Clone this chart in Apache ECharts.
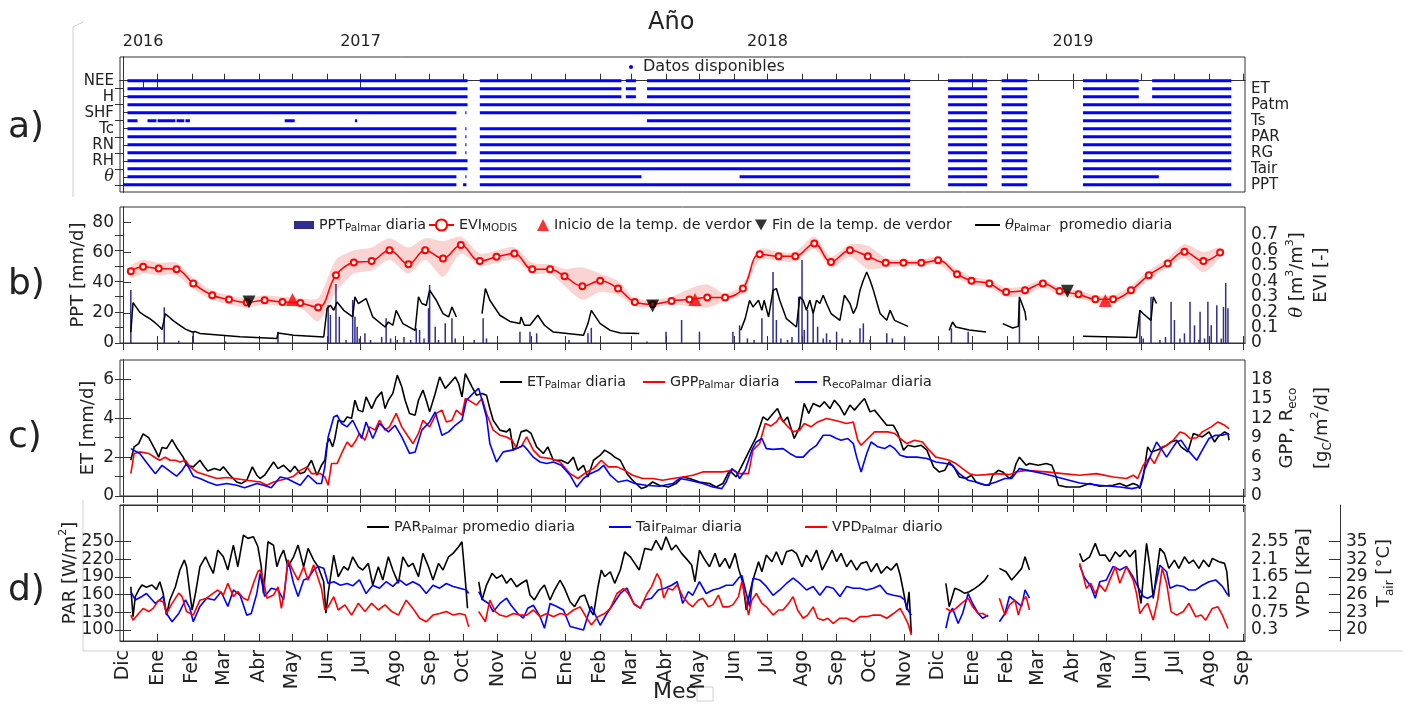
<!DOCTYPE html>
<html><head><meta charset="utf-8">
<script src="https://cdn.jsdelivr.net/npm/echarts@6/dist/echarts.min.js"></script>
<style>html,body{margin:0;padding:0;background:#fff}#c{width:1413px;height:705px}</style>
</head><body><div id="c"></div><script>
// ---------- axis ticks (x = days since 1 Dec) ----------
const monthTicks = [0,31,62,91,122,152,183,213,244,275,305,336,366,397,428,456,487,517,548,578,609,640,670,701,731,762,793,821,852,882,913,943,974,1005];
const monthLabels = ['Dic','Ene','Feb','Mar','Abr','May','Jun','Jul','Ago','Sep','Oct','Nov','Dic','Ene','Feb','Mar','Abr','May','Jun','Jul','Ago','Sep','Oct','Nov','Dic','Ene','Feb','Mar','Abr','May','Jun','Jul','Ago','Sep'];
const yearTicks = [18,31,213,762,852];
const yearLabelDays = [18,213,578,852];
const yearLabels = ['2016','2017','2018','2019'];
const rowNames = ['NEE','ET','H','Patm','SHF','Ts','Tc','PAR','RN','RG','RH','Tair','θ','PPT'];
const eviTicks = [0,0.1,0.2,0.3,0.4,0.5,0.6,0.7];

// ---------- a) data availability intervals [start, end] ----------
const availNEE  = [[4,309],[320,447],[451,460],[470,706],[740,775],[788,811],[861,911],[923,994]];
const availET   = [[4,309],[320,447],[451,460],[470,706],[740,775],[788,811],[861,911],[923,994]];
const availH    = [[4,309],[320,447],[451,460],[470,706],[740,775],[788,811],[861,911],[923,994]];
const availPatm = [[4,309],[320,706],[740,775],[788,811],[861,994]];
const availSHF  = [[4,299],[307,308],[320,706],[740,775],[788,811],[861,994]];
const availTs   = [[4,13],[22,30],[31,47],[48,55],[56,60],[145,154],[208,210],[470,706],[740,775],[788,811],[861,994]];
const availTc   = [[4,299],[307,308],[320,706],[740,775],[788,811],[861,994]];
const availPAR  = [[4,299],[307,308],[320,706],[740,775],[788,811],[861,994]];
const availRN   = [[4,299],[307,308],[320,706],[740,775],[788,811],[861,994]];
const availRG   = [[4,299],[307,308],[320,706],[740,775],[788,811],[861,994]];
const availRH   = [[4,309],[320,706],[740,775],[788,811],[861,994]];
const availTair = [[4,309],[320,706],[740,775],[788,811],[861,994]];
const availTheta= [[4,299],[307,308],[320,465],[553,706],[740,775],[788,811],[861,929]];
const availPPT  = [[0,299],[305,308],[320,706],[740,775],[788,811],[861,994]];
const availability = [availNEE,availET,availH,availPatm,availSHF,availTs,availTc,availPAR,availRN,availRG,availRH,availTair,availTheta,availPPT];

// ---------- b) ----------
const pptDaily = [[7,35],[37,23.6],[50,1.5],[63,7.5],[92,1],[139,7.5],[184,25],[186,18.5],[191,39],[194,17.4],[200,2],[206,28.5],[208,17.4],[210,10.8],[212,3],[217,6.4],[222,2],[232,4],[236,16.3],[240,3],[246,2],[252,4],[258,2],[263,9.7],[266,8.6],[270,3],[274,23],[275,38.4],[280,10.8],[283,2],[289,13],[295,16.3],[298,3],[315,2],[323,16.3],[326,3],[356,7.5],[365,7.5],[371,6.4],[400,2],[417,6.4],[420,10],[470,1],[487,7.5],[501,15.2],[517,7.5],[547,7.5],[553,11.7],[560,3],[566,2],[573,16.3],[583,47],[586,15.2],[590,3],[596,2],[600,4],[606,30.6],[609,55],[611,8.6],[614,21.8],[619,19.7],[623,10.8],[628,3],[631,6.4],[634,2],[640,7.5],[645,3],[652,2],[661,9.7],[664,13],[670,2],[685,6.4],[690,3],[701,4],[743,9.7],[758,7.5],[804,28],[912,21.8],[915,3],[922,30.6],[930,2],[935,4],[940,27.3],[943,15.2],[948,3],[952,6.4],[957,27.3],[961,11.7],[965,2],[966,20.6],[970,3],[973,27.3],[976,11.7],[981,25],[985,3],[987,23.8],[989,39.7],[991,23]];
const eviDays = [7,18,32,48,63,80,95,111,127,143,159,175,191,207,223,239,256,271,287,303,320,335,351,367,383,396,412,428,444,459,475,492,508,524,540,556,571,588,603,620,635,652,668,684,700,716,731,748,761,777,792,809,825,840,857,872,888,904,920,937,952,969,984];
const eviValues = [0.466,0.494,0.483,0.479,0.386,0.310,0.282,0.263,0.277,0.266,0.260,0.230,0.440,0.522,0.531,0.602,0.511,0.602,0.548,0.635,0.531,0.559,0.581,0.479,0.479,0.433,0.368,0.403,0.353,0.266,0.251,0.273,0.282,0.295,0.295,0.353,0.576,0.563,0.563,0.646,0.526,0.602,0.563,0.520,0.520,0.520,0.537,0.446,0.403,0.386,0.331,0.342,0.386,0.338,0.316,0.284,0.284,0.342,0.440,0.516,0.591,0.531,0.587];
const eviLow  = [0.42,0.45,0.44,0.44,0.35,0.28,0.25,0.23,0.25,0.24,0.23,0.14,0.33,0.45,0.47,0.54,0.45,0.54,0.43,0.58,0.50,0.52,0.54,0.45,0.45,0.37,0.28,0.33,0.31,0.24,0.23,0.25,0.24,0.23,0.27,0.32,0.54,0.53,0.53,0.61,0.49,0.56,0.48,0.49,0.50,0.50,0.51,0.42,0.38,0.36,0.30,0.31,0.36,0.31,0.29,0.26,0.26,0.31,0.41,0.49,0.55,0.46,0.56];
const eviHigh = [0.50,0.54,0.52,0.52,0.42,0.34,0.31,0.29,0.31,0.30,0.29,0.29,0.54,0.60,0.62,0.68,0.62,0.68,0.66,0.69,0.58,0.60,0.62,0.52,0.51,0.48,0.49,0.45,0.40,0.29,0.28,0.30,0.35,0.38,0.32,0.38,0.61,0.59,0.59,0.69,0.56,0.64,0.63,0.55,0.54,0.54,0.56,0.48,0.43,0.41,0.36,0.37,0.41,0.36,0.34,0.31,0.31,0.37,0.47,0.55,0.64,0.59,0.62];
const greenStart = [[152,0.282],[513,0.282],[881,0.275]];
const greenEnd   = [[113,0.266],[475,0.240],[847,0.336]];
const thetaSegs = [
 [[7,0.07],[9,0.262],[15,0.20],[20,0.175],[24,0.158],[29,0.13],[33,0.104],[35,0.087],[38,0.19],[39,0.18],[45,0.145],[51,0.115],[56,0.09],[62,0.071],[65,0.074],[69,0.062],[105,0.04],[138,0.029],[139,0.065],[153,0.05],[180,0.039],[183,0.223],[186,0.245],[189,0.212],[192,0.266],[198,0.212],[206,0.169],[208,0.299],[211,0.256],[218,0.288],[224,0.169],[235,0.104],[238,0.136],[242,0.115],[245,0.212],[251,0.126],[262,0.082],[265,0.299],[268,0.256],[272,0.245],[275,0.342],[281,0.277],[287,0.191],[292,0.169],[295,0.234],[299,0.169]],
 [[322,0.191],[325,0.353],[329,0.277],[338,0.18],[347,0.14],[356,0.126],[357,0.169],[360,0.115],[365,0.115],[372,0.18],[378,0.115],[386,0.071],[413,0.05],[417,0.126],[420,0.212],[428,0.126],[437,0.082],[446,0.065],[463,0.061]],
 [[554,0.082],[558,0.158],[562,0.277],[565,0.234],[570,0.277],[573,0.212],[575,0.277],[579,0.169],[583,0.342],[586,0.353],[589,0.277],[595,0.158],[604,0.104],[607,0.299],[610,0.277],[613,0.212],[616,0.277],[619,0.191],[622,0.277],[625,0.256],[628,0.31],[631,0.256],[635,0.191],[643,0.147],[647,0.31],[652,0.256],[655,0.191],[658,0.234],[661,0.342],[664,0.407],[667,0.461],[670,0.407],[673,0.342],[679,0.191],[685,0.147],[688,0.212],[692,0.147],[704,0.108]],
 [[741,0.082],[744,0.136],[747,0.104],[759,0.085],[774,0.071]],
 [[789,0.126],[798,0.097],[803,0.108],[804,0.299],[809,0.201],[810,0.147]],
 [[861,0.044],[909,0.035],[912,0.212],[915,0.19],[922,0.147],[924,0.299],[927,0.256]]
];

// ---------- c) ----------
const etDaily = [[7,1.84],[10,2.53],[14,2.7],[18,3.2],[23,3.0],[29,2.36],[32,2.0],[35,2.5],[39,2.44],[44,2.9],[48,2.5],[54,2.0],[57,1.58],[63,1.5],[69,1.84],[72,1.58],[76,1.29],[82,1.41],[87,1.32],[90,1.5],[96,1.07],[102,0.72],[106,0.64],[111,0.81],[116,1.5],[120,1.07],[123,0.9],[127,1.07],[135,1.75],[139,1.41],[144,1.58],[150,1.24],[154,1.53],[159,1.15],[163,1.24],[169,1.84],[174,1.07],[178,1.58],[181,1.84],[183,2.7],[185,2.96],[188,2.53],[190,2.96],[193,3.9],[198,3.81],[201,4.07],[205,4.0],[208,4.93],[211,4.42],[215,4.33],[218,5.1],[223,4.5],[227,5.02],[232,5.36],[235,4.5],[238,4.93],[242,5.28],[246,6.22],[250,5.62],[253,4.93],[257,4.25],[262,4.16],[265,4.93],[269,5.45],[272,4.93],[275,4.33],[280,5.28],[284,6.13],[289,5.54],[293,5.79],[298,6.13],[301,5.79],[304,5.1],[307,6.3],[313,5.62],[317,5.19],[322,5.28],[326,5.19],[329,4.5],[332,3.9],[338,3.39],[344,3.3],[347,3.47],[350,2.36],[353,2.53],[357,3.3],[362,3.39],[366,3.22],[371,2.53],[377,2.19],[381,2.53],[386,1.84],[393,1.84],[399,1.67],[404,2.0],[408,1.32],[413,1.58],[417,0.98],[422,1.84],[428,2.1],[432,2.36],[437,2.19],[441,2.0],[446,1.84],[452,1.15],[457,0.81],[465,0.38],[469,0.46],[475,0.72],[481,0.55],[489,0.46],[496,0.64],[502,0.98],[508,0.9],[517,0.72],[526,0.64],[532,0.46],[538,0.64],[544,1.32],[550,0.98],[556,1.67],[562,2.36],[568,3.04],[574,4.07],[578,3.9],[583,4.25],[587,4.5],[592,3.81],[596,4.07],[602,2.96],[607,3.56],[611,4.76],[615,4.25],[619,4.76],[625,4.59],[629,4.85],[634,4.5],[638,4.93],[643,4.59],[647,4.16],[652,4.68],[656,4.42],[661,4.76],[665,5.02],[670,4.33],[674,4.42],[679,4.07],[685,3.64],[691,3.64],[695,3.22],[700,2.36],[704,2.61],[710,2.53],[716,2.61],[721,2.36],[727,1.5],[732,1.24],[737,1.32],[741,1.75],[746,1.41],[750,0.98],[756,0.9],[761,1.07],[765,0.72],[768,0.64],[774,0.55],[777,0.55],[780,1.07],[785,1.32],[789,1.24],[795,0.9],[798,1.07],[801,1.67],[804,2.0],[810,1.58],[813,1.67],[821,1.58],[828,1.67],[833,1.58],[836,1.15],[839,0.55],[846,0.46],[858,0.46],[867,0.64],[876,0.5],[888,0.55],[894,0.64],[900,0.5],[906,0.64],[910,0.55],[912,0.38],[915,0.98],[919,2.53],[922,2.27],[927,2.36],[931,2.44],[936,2.61],[940,2.78],[945,2.87],[949,2.53],[955,2.27],[960,3.22],[964,3.13],[968,3.04],[974,3.3],[979,2.78],[982,3.04],[988,3.3],[991,3.2],[992,2.87]];
const gppDaily = [[7,3.45],[10,6.57],[15,6.81],[23,6.57],[30,5.79],[33,5.52],[38,6.0],[42,5.52],[47,5.52],[51,5.25],[56,5.52],[60,4.5],[66,3.72],[75,3.21],[84,2.7],[93,2.85],[100,2.7],[111,2.43],[123,2.16],[129,1.65],[135,2.16],[147,2.7],[153,3.06],[159,3.96],[165,4.5],[169,3.45],[177,3.45],[181,2.94],[184,1.65],[187,5.01],[192,5.01],[196,6.57],[201,8.34],[205,7.59],[209,8.61],[212,9.66],[217,8.61],[221,10.68],[226,10.17],[230,11.7],[235,10.17],[239,10.68],[245,12.75],[250,10.68],[256,9.12],[260,8.1],[265,9.66],[269,11.7],[275,10.68],[281,12.75],[286,13.26],[290,11.43],[295,11.7],[299,13.26],[304,12.48],[307,15.06],[311,14.7],[317,14.04],[322,15.06],[326,12.75],[332,10.17],[338,9.39],[344,9.12],[349,8.61],[353,7.32],[357,7.59],[362,9.12],[368,7.08],[374,6.0],[383,5.79],[392,5.25],[401,3.45],[408,2.7],[416,3.72],[422,4.23],[429,5.52],[435,4.5],[443,4.5],[450,3.96],[457,3.21],[466,2.7],[475,2.7],[484,2.43],[493,2.7],[502,2.94],[511,3.21],[520,3.72],[529,3.72],[538,3.72],[547,3.96],[553,3.45],[561,3.45],[565,7.08],[571,8.1],[576,11.19],[581,10.8],[586,11.43],[589,12.21],[595,10.92],[601,9.9],[607,10.2],[611,11.19],[617,10.68],[623,11.43],[631,11.97],[638,11.7],[644,11.43],[649,11.2],[655,11.43],[659,8.61],[662,7.83],[668,8.88],[674,9.9],[680,9.9],[686,9.9],[692,9.66],[697,8.88],[703,8.1],[710,8.61],[717,8.34],[723,7.08],[729,6.0],[735,5.79],[741,5.52],[747,5.01],[753,4.23],[759,3.45],[765,3.21],[774,3.3],[783,3.45],[795,3.3],[801,3.72],[810,3.96],[828,3.72],[843,3.45],[858,3.21],[873,3.45],[888,2.94],[900,2.7],[906,3.21],[910,2.7],[915,4.74],[921,6.0],[925,5.01],[932,7.59],[936,7.8],[942,8.61],[948,9.9],[952,9.66],[957,8.88],[963,9.0],[968,9.9],[976,10.68],[982,11.43],[988,10.92],[992,10.41]];
const recoDaily = [[7,7.32],[15,6.57],[23,4.74],[29,3.45],[35,4.74],[41,3.96],[48,3.06],[53,3.96],[57,5.01],[63,3.06],[69,2.7],[76,2.16],[84,1.65],[93,1.92],[102,1.65],[109,1.29],[120,1.92],[126,1.65],[133,1.29],[141,2.94],[147,2.7],[153,2.16],[159,1.65],[166,3.21],[174,1.92],[178,1.92],[181,4.5],[184,9.12],[189,12.21],[192,12.48],[196,11.19],[201,10.68],[206,11.7],[214,8.88],[218,11.43],[224,8.88],[230,11.19],[238,9.9],[244,10.92],[250,9.12],[257,6.57],[262,6.81],[268,10.17],[275,11.43],[280,12.99],[286,9.39],[292,9.9],[298,10.92],[304,11.7],[308,14.79],[314,15.84],[319,16.62],[322,14.79],[326,12.21],[329,8.1],[335,5.25],[341,6.81],[349,7.08],[353,7.32],[359,7.83],[363,7.08],[368,6.0],[374,5.25],[380,5.01],[386,5.25],[393,4.74],[401,3.21],[407,1.38],[413,2.7],[419,3.45],[426,3.96],[431,4.74],[437,3.21],[444,2.16],[452,2.43],[459,1.92],[469,1.65],[481,1.5],[493,1.92],[499,2.7],[508,2.43],[520,1.92],[529,1.38],[537,1.14],[541,2.16],[546,4.23],[550,3.72],[553,2.7],[558,3.96],[564,7.08],[568,8.34],[573,8.88],[577,7.32],[583,7.2],[592,7.32],[598,6.57],[604,6.0],[610,6.0],[616,7.08],[622,7.83],[628,9.39],[634,9.39],[640,8.88],[644,8.61],[650,8.88],[655,8.1],[658,6.0],[662,3.72],[667,6.57],[671,8.34],[677,7.59],[683,7.32],[688,7.83],[692,7.32],[697,6.3],[703,6.0],[712,6.0],[721,5.79],[729,5.25],[738,5.01],[744,4.74],[750,3.45],[758,2.43],[765,2.16],[774,1.65],[783,2.16],[791,2.7],[797,2.7],[804,4.23],[828,3.36],[858,2.01],[876,1.65],[894,1.38],[905,1.14],[912,1.38],[916,3.96],[921,6.0],[927,8.34],[932,7.08],[936,6.0],[940,7.08],[945,8.34],[949,8.61],[955,7.08],[963,5.52],[968,7.08],[974,8.88],[980,9.39],[986,9.39],[991,9.66],[992,9.39]];

// ---------- d) ----------
const parSegs = [
 [[7,173.5],[9,122.6],[11,156.5],[14,167.9],[17,176.4],[21,172.5],[26,176.4],[30,169],[33,182],[36,162.3],[39,125.5],[42,151],[47,173.5],[51,201.9],[55,218.8],[57,207.5],[60,162.3],[62,134],[65,162.3],[69,207.5],[74,224.4],[78,207.5],[81,196.3],[85,235.8],[90,224.4],[94,201.9],[99,244.3],[103,207.5],[108,261.3],[112,255.7],[117,258.4],[121,241.4],[124,207.5],[126,162.3],[130,249.9],[135,244],[138,207.5],[141,224.4],[144,235.8],[148,207.5],[153,224.4],[157,244.3],[162,207.5],[166,238.7],[171,218.8],[175,207.5],[180,182],[182,128.4],[184,162.3],[189,227.3],[193,190.5],[198,207.5],[202,201.9],[206,224.4],[211,207.5],[215,201.9],[220,213.2],[224,176.4],[229,207.5],[233,184.9],[238,224.4],[242,201.9],[247,179.3],[251,224.4],[256,207.5],[260,213.2],[265,190.5],[269,230.2],[274,207.5],[278,184.9],[283,213.2],[287,201.9],[292,224.4],[296,230.2],[301,241.4],[304,250],[307,185],[309,137]],
 [[319,182],[322,151],[326,176.4],[331,196.3],[335,187.8],[340,193.4],[344,179.3],[348,187.8],[353,173.5],[357,179],[362,184.9],[365,159.4],[369,151],[374,167.9],[378,176.4],[383,151],[387,167.9],[392,184.9],[396,170.8],[401,148],[405,139.6],[410,156.5],[414,159.4],[419,134],[422,125.5],[426,173.5],[429,201.9],[432,190.5],[437,199],[441,179.3],[446,201.9],[450,232.9],[455,224.4],[459,213.2],[463,201.9],[468,238.7],[474,235.8],[478,252.8],[483,235.8],[487,258.4],[492,235.8],[496,244.3],[501,230.2],[505,221.7],[510,210.4],[513,182],[517,235.8],[521,221.7],[526,207.5],[531,230.2],[535,207.5],[540,221.7],[544,204.7],[549,230.2],[552,204.7],[556,179.3],[559,134],[562,162.3],[565,184.9],[570,216],[573,199],[577,227.3],[582,216],[586,232.9],[591,210.4],[595,232.9],[600,235.8],[604,230.2],[609,207.5],[613,227.3],[617,216],[622,235.8],[627,201.9],[631,216],[636,235.8],[640,216],[644,230.2],[649,207.5],[653,218.8],[658,201.9],[662,213.2],[667,216],[671,199],[676,213.2],[680,196.3],[685,207.5],[689,201.9],[694,213.2],[697,193.4],[700,165],[703,134],[705,165],[707,94.4]],
 [[738,179.3],[741,139.6],[746,170.8],[750,167.9],[755,162.3],[759,165],[764,170.8],[768,176.4],[773,184.9],[776,193.4]],
 [[786,204.7],[792,199],[797,184.9],[801,193.4],[806,204.7],[809,224.4],[813,201.9]],
 [[858,230.2],[861,216],[867,224.4],[872,247.2],[876,227],[881,227.3],[885,216],[890,232.9],[894,224.4],[899,235.8],[903,224.4],[908,235.8],[910,179.3],[913,145.3],[918,247.2],[921,207.5],[924,153.8],[930,238.7],[934,230.2],[938,204.7],[943,218.8],[947,204.7],[952,224.4],[956,213.2],[960,218.8],[965,204.7],[969,218.8],[974,207.5],[977,221.7],[983,216],[988,213.2],[990,199],[992,156.5]]
];
const tairSegs = [
 [[7,26.5],[11,25.1],[17,25.7],[21,26.2],[29,24.5],[33,25.1],[36,25.7],[39,22.8],[44,21.4],[50,22.8],[56,25.1],[60,23.7],[63,21.4],[69,24],[75,25.4],[82,25.1],[88,26.5],[94,24],[99,26.8],[105,25.9],[111,22.5],[115,22.8],[120,26.2],[123,29.6],[127,25.7],[133,27.1],[139,26.8],[144,25.1],[148,31.9],[153,27.9],[157,25.7],[162,28.5],[166,28.8],[171,30.2],[175,30.8],[180,30.5],[184,27.9],[189,28.2],[195,27.6],[201,27.9],[206,27.5],[212,28.5],[218,26.2],[224,27.6],[230,27.1],[236,28.2],[242,27.4],[248,28.5],[254,27.6],[260,28.2],[266,27.6],[272,26.2],[278,27.6],[284,27.1],[290,27.9],[296,27.4],[302,27.1],[308,26.8],[310,26.2]],
 [[319,26.5],[323,25.1],[328,24.5],[332,23.1],[338,24.5],[344,25.4],[348,24.2],[354,22.8],[359,22],[363,23.7],[368,24.2],[374,22.3],[378,20.3],[383,24.5],[389,24],[395,23.4],[401,20.6],[407,20.3],[413,20],[417,22.5],[420,24],[428,20.8],[434,22.8],[440,24.5],[446,26.2],[452,27.1],[458,24.5],[464,23.7],[468,25.1],[474,25.4],[480,26.8],[486,27.1],[492,27.6],[497,28.2],[499,26.8],[502,24.5],[507,26.5],[511,25.9],[517,28.2],[523,26.2],[529,26.8],[535,27.1],[541,27.6],[547,27.6],[552,28.8],[555,29.3],[559,26.2],[562,24],[565,28.8],[571,28.5],[577,27.4],[583,25.9],[589,26.8],[595,27.9],[601,28.8],[607,27.9],[613,26.8],[619,27.4],[625,25.9],[631,27.4],[637,27.1],[643,25.7],[649,27.4],[655,27.1],[661,27.1],[667,26.8],[673,27.1],[679,27.6],[685,26.2],[691,25.9],[697,25.7],[701,25.1],[704,23.4],[707,22.5]],
 [[738,20.3],[741,22.8],[744,23.7],[749,21.1],[753,22.8],[758,26.2],[762,24.5],[767,22.8],[771,22],[776,22.5]],
 [[786,21.4],[791,22.8],[795,25.7],[801,24.8],[806,24],[809,26.8],[813,25.4]],
 [[858,31],[862,29],[868,27.4],[872,25.4],[876,28.2],[882,28.5],[888,30.8],[894,30.2],[900,30.8],[906,29],[910,27.4],[915,25.7],[919,25.4],[924,25.9],[930,31],[936,29.9],[939,27.1],[945,27.6],[951,27.4],[956,26.8],[962,26.8],[968,27.6],[974,28.2],[980,28.5],[986,27.4],[991,25.9]]
];
const vpdSegs = [
 [[7,0.68],[9,0.55],[14,0.72],[18,0.85],[23,0.77],[27,0.85],[32,1.06],[36,1.02],[39,0.72],[44,0.98],[50,1.24],[53,1.15],[57,0.77],[63,0.68],[69,1.06],[75,1.11],[81,1.24],[85,1.32],[90,1.19],[94,1.49],[99,1.15],[103,1.28],[108,1.11],[112,1.06],[117,1.49],[121,1.79],[123,1.83],[126,1.57],[129,1.11],[135,1.19],[139,1.4],[142,0.85],[145,1.32],[148,2.08],[153,1.79],[157,1.57],[162,1.91],[166,1.57],[171,1.96],[175,1.62],[178,1.36],[181,0.81],[184,0.89],[189,1.15],[193,0.81],[199,0.94],[205,0.68],[211,0.98],[217,0.77],[223,0.98],[229,0.81],[235,0.94],[241,0.77],[247,0.68],[254,1.06],[260,0.85],[266,0.6],[272,0.51],[278,0.68],[284,0.72],[290,0.77],[296,0.68],[302,0.72],[307,0.68],[310,0.38]],
 [[319,0.77],[322,0.64],[325,0.51],[329,1.06],[334,0.77],[338,0.68],[344,0.64],[350,0.72],[356,0.68],[362,0.68],[368,0.81],[374,0.64],[380,0.72],[386,0.64],[392,0.72],[398,0.68],[404,0.81],[410,0.89],[416,0.6],[420,0.43],[426,0.64],[432,0.72],[437,0.85],[443,1.23],[449,1.36],[453,1.23],[459,0.94],[464,0.85],[470,1.23],[474,1.4],[479,1.74],[482,1.57],[485,1.11],[489,1.36],[493,1.32],[497,1.45],[502,1.15],[507,0.98],[511,0.89],[516,1.06],[520,1.11],[525,0.89],[529,0.94],[534,1.19],[538,0.89],[543,0.89],[547,0.94],[552,1.15],[555,1.53],[558,1.15],[561,0.68],[564,1.06],[568,1.23],[573,0.98],[577,0.89],[583,0.68],[588,0.81],[592,0.81],[597,0.98],[601,1.15],[605,0.81],[610,0.6],[614,0.68],[619,0.89],[623,0.6],[628,0.55],[632,0.6],[637,0.47],[643,0.6],[649,0.6],[655,0.51],[661,0.64],[667,0.64],[673,0.68],[679,0.68],[685,0.6],[691,0.72],[697,0.85],[701,0.64],[704,0.47],[707,0.17]],
 [[738,0.85],[743,0.77],[747,0.85],[752,0.98],[758,1.11],[762,0.89],[767,0.72],[771,0.72],[776,0.64]],
 [[786,1.11],[791,0.68],[795,0.94],[800,1.06],[803,0.68],[807,1.06],[810,1.15],[813,0.81]],
 [[858,2.0],[861,1.7],[864,1.36],[868,1.49],[872,1.23],[876,1.45],[881,1.28],[885,1.57],[890,1.91],[894,1.49],[900,1.91],[906,1.57],[909,1.23],[912,0.72],[916,0.89],[919,0.98],[924,0.55],[928,1.06],[932,1.87],[936,1.49],[940,0.77],[945,0.68],[951,0.77],[956,0.98],[962,0.64],[967,0.68],[971,0.55],[977,0.85],[982,0.89],[986,0.68],[991,0.34]]
];

// ---------- helpers / styling ----------
const FONT = 'DejaVu Sans';
const TXT = '#222';
const AX = '#333';
const X_MIN = -2.7, X_MAX = 1006.3;
function joinSegs(segs){const out=[];segs.forEach((s,i)=>{if(i)out.push([s[0][0],'-']);s.forEach(p=>out.push(p));});return out;}
const availData=[];
availability.forEach((row,i)=>row.forEach(([s,e])=>{availData.push([s,i],[e,i],[e,'-']);}));

const richLegend = {
  sub:{fontSize:10.5,lineHeight:10,verticalAlign:'bottom',fontFamily:FONT,color:TXT},
  it:{fontSize:15,fontStyle:'italic',fontFamily:'DejaVu Serif',color:TXT}
};
const legendText = {
 'Datos disponibles':'Datos disponibles',
 PPT:'PPT{sub|Palmar} diaria', EVI:'EVI{sub|MODIS}',
 Inicio:'Inicio de la temp. de verdor', Fin:'Fin de la temp. de verdor',
 theta:'{it|θ}{sub|Palmar}  promedio diaria',
 ET:'ET{sub|Palmar} diaria', GPP:'GPP{sub|Palmar} diaria', Reco:'R{sub|ecoPalmar} diaria',
 PAR:'PAR{sub|Palmar} promedio diaria', Tair:'Tair{sub|Palmar} diaria', VPD:'VPD{sub|Palmar} diario'
};
function legendAt(name,left,top,extra){
  return Object.assign({data:[name],left,top,padding:0,itemGap:0,itemWidth:22,itemHeight:2,icon:'rect',
    formatter:n=>legendText[n],
    textStyle:{fontSize:14.3,color:TXT,fontFamily:FONT,lineHeight:18,rich:richLegend},
    selectedMode:false},extra||{});
}
function monthAxis(gi,pos,labels){
  return {type:'value',gridIndex:gi,position:pos,min:X_MIN,max:X_MAX,
    axisLine:{show:true,lineStyle:{color:AX,width:1}},
    axisTick:{show:true,inside:true,length:7,customValues:monthTicks,lineStyle:{color:AX}},
    axisLabel: labels?{show:true,customValues:monthTicks,rotate:90,fontSize:19,color:TXT,fontFamily:FONT,margin:9,hideOverlap:false,showMinLabel:true,showMaxLabel:true,
      formatter:v=>monthLabels[monthTicks.indexOf(Math.round(v))]}:{show:false},
    splitLine:{show:false}};
}
const nameRich = {
  sub:{fontSize:12,lineHeight:12,verticalAlign:'bottom',fontFamily:FONT,color:TXT},
  sup:{fontSize:11,lineHeight:11,verticalAlign:'top',fontFamily:FONT,color:TXT},
  it:{fontSize:18,fontStyle:'italic',fontFamily:'DejaVu Serif',color:TXT}
};
function valAxis(gi,pos,min,max,ticks,opt){
  return Object.assign({type:'value',gridIndex:gi,position:pos,min,max,
    axisLine:{show:true,lineStyle:{color:AX,width:1}},
    axisTick:{show:true,inside:true,length:8,customValues:ticks,lineStyle:{color:AX}},
    axisLabel:{show:true,customValues:ticks,fontSize:17,lineHeight:14,color:TXT,fontFamily:FONT,margin:6,hideOverlap:false,showMinLabel:true,showMaxLabel:true},
    splitLine:{show:false},
    nameLocation:'middle',nameRotate:90,nameMoveOverlap:false,
    nameTextStyle:{fontSize:18,color:TXT,fontFamily:FONT,lineHeight:24,rich:nameRich}
  },opt||{});
}
function evLabel(v){return v===0?'0':String(+v.toFixed(1));}
const gridBase={left:120,right:168,show:true,borderColor:AX,borderWidth:1,containLabel:false,outerBoundsMode:'none'};
const frameStyle={stroke:'#cfcfcf',lineWidth:1};

const option = {
  animation:false,
  backgroundColor:'#fff',
  textStyle:{fontFamily:FONT},
  title:[
    {text:'Año',left:648,top:11,padding:0,textStyle:{fontSize:24,fontWeight:'normal',color:TXT,fontFamily:FONT}},
    {text:'Mes',left:653,top:681,padding:0,textStyle:{fontSize:22,fontWeight:'normal',color:TXT,fontFamily:FONT}},
    {text:'a)',left:8,top:110,padding:0,textStyle:{fontSize:36,fontWeight:'normal',color:TXT,fontFamily:FONT}},
    {text:'b)',left:8,top:267,padding:0,textStyle:{fontSize:36,fontWeight:'normal',color:TXT,fontFamily:FONT}},
    {text:'c)',left:8,top:420,padding:0,textStyle:{fontSize:36,fontWeight:'normal',color:TXT,fontFamily:FONT}},
    {text:'d)',left:8,top:573,padding:0,textStyle:{fontSize:36,fontWeight:'normal',color:TXT,fontFamily:FONT}}
  ],
  graphic:[
    {type:'rect',shape:{x:697,y:687,width:16,height:14},style:{fill:'none',stroke:'#d0d0d0',lineWidth:1}},
    {type:'polyline',shape:{points:[[83,22],[73,27],[73,197]]},style:frameStyle,silent:true},
    {type:'polyline',shape:{points:[[83,500],[83,651],[1403,651]]},style:frameStyle,silent:true}
  ],
  grid:[
    Object.assign({top:57,height:135},gridBase),
    Object.assign({top:207,height:136},gridBase),
    Object.assign({top:360,height:136},gridBase),
    Object.assign({top:505,height:136},gridBase)
  ],
  legend:[
    legendAt('Datos disponibles',629,59,{icon:'circle',itemWidth:14,itemHeight:4,textStyle:{fontSize:16,color:TXT,fontFamily:FONT}}),
    legendAt('PPT',294,216,{icon:'rect',itemWidth:20,itemHeight:8}),
    legendAt('EVI',428,216,{icon:undefined,itemWidth:25,itemHeight:14}),
    legendAt('Inicio',537,216,{icon:'triangle',itemWidth:12,itemHeight:12}),
    legendAt('Fin',755,216,{icon:'path://M0,0L10,0L5,9Z',itemWidth:12,itemHeight:11}),
    legendAt('theta',975,216,{itemWidth:25}),
    legendAt('ET',500,373),
    legendAt('GPP',643,373),
    legendAt('Reco',795,373),
    legendAt('PAR',367,518),
    legendAt('Tair',609,518),
    legendAt('VPD',805,518)
  ],
  xAxis:[
    monthAxis(0,'bottom',false),
    {type:'value',gridIndex:0,position:'top',min:X_MIN,max:X_MAX,
      axisLine:{show:true,lineStyle:{color:AX}},
      axisTick:{show:true,inside:true,length:8,customValues:yearTicks,lineStyle:{color:AX}},
      axisLabel:{show:true,customValues:yearLabelDays,fontSize:16,color:TXT,fontFamily:FONT,margin:7,hideOverlap:false,showMinLabel:true,showMaxLabel:true,
        formatter:v=>yearLabels[yearLabelDays.indexOf(Math.round(v))]},
      splitLine:{show:false}},
    monthAxis(1,'bottom',false), monthAxis(1,'top',false),
    monthAxis(2,'bottom',false), monthAxis(2,'top',false),
    monthAxis(3,'bottom',true), monthAxis(3,'top',false)
  ],
  yAxis:[
    valAxis(0,'left',-2.96,13.9,[0,2,4,6,8,10,12],{inverse:true,
      axisLabel:{show:true,customValues:[0,2,4,6,8,10,12],fontSize:15,lineHeight:14,color:TXT,fontFamily:FONT,margin:6,hideOverlap:false,showMinLabel:true,showMaxLabel:true,
        formatter:v=>{const n=rowNames[Math.round(v)];return n==='θ'?'{it|θ}':n;},rich:{it:{fontSize:16,lineHeight:14,fontStyle:'italic',fontFamily:'DejaVu Serif',color:TXT}}}}),
    valAxis(0,'right',-2.96,13.9,[1,3,5,7,9,11,13],{inverse:true,
      axisLabel:{show:true,customValues:[1,3,5,7,9,11,13],fontSize:15,lineHeight:14,color:TXT,fontFamily:FONT,margin:6,hideOverlap:false,showMinLabel:true,showMaxLabel:true,
        formatter:v=>rowNames[Math.round(v)]}}),
    valAxis(1,'left',0,90,[0,20,40,60,80],{name:'PPT [mm/d]',nameGap:30}),
    valAxis(1,'right',0,0.882,eviTicks,{name:'{it|θ} [m{sup|3}/m{sup|3}]\nEVI [-]',nameGap:40,
      axisLabel:{show:true,customValues:eviTicks.filter((v,i)=>i%2===0),fontSize:17,color:TXT,fontFamily:FONT,margin:6,hideOverlap:false,showMinLabel:true,showMaxLabel:true,formatter:evLabel}}),
    valAxis(2,'left',0,7,[0,2,4,6],{name:'ET [mm/d]',nameGap:20}),
    valAxis(2,'right',0,21,[0,3,6,9,12,15,18],{name:'GPP, R{sub|eco}',nameGap:30}),
    valAxis(3,'left',81.3,312.4,[100,130,160,190,220,250],{name:'PAR [W/m{sup|2}]',nameGap:38}),
    valAxis(3,'right',0.02,3.485,[0.3,0.75,1.2,1.65,2.1,2.55],{name:'VPD [KPa]',nameGap:47}),
    valAxis(3,'right',18.13,41.23,[20,23,26,29,32,35],{name:'T{sub|air} [°C]',nameGap:32,offset:95,
      axisTick:{show:true,inside:true,length:11,customValues:[20,23,26,29,32,35],lineStyle:{color:AX}}}),
    // companion axis carrying the odd EVI/theta labels (avoids automatic label thinning)
    valAxis(1,'right',0,0.882,eviTicks,{axisLine:{show:false},axisTick:{show:false},
      axisLabel:{show:true,customValues:eviTicks.filter((v,i)=>i%2===1),fontSize:17,color:TXT,fontFamily:FONT,margin:6,hideOverlap:false,showMinLabel:true,showMaxLabel:true,formatter:evLabel}}),
    // companion axis carrying the second line of the GPP/Reco unit label
    valAxis(2,'right',0,21,[0,3,6,9,12,15,18],{axisLine:{show:false},axisTick:{show:false},axisLabel:{show:false},
      name:'[g{sub|C}/m{sup|2}/d]',nameGap:65})
  ],
  series:[
    {name:'Datos disponibles',type:'line',xAxisIndex:0,yAxisIndex:0,data:availData,symbol:'none',connectNulls:false,
      lineStyle:{color:'#0000ff',width:3},itemStyle:{color:'#0000ff'},silent:true},
    {name:'PPT',type:'bar',xAxisIndex:2,yAxisIndex:2,data:pptDaily,barWidth:1.5,itemStyle:{color:'#2e2e8c'},silent:true},
    {name:'eviBand',type:'custom',xAxisIndex:2,yAxisIndex:3,data:[[eviDays[0],eviLow[0]]],silent:true,z:1,
      renderItem:(params,api)=>{
        const pts=[];
        eviDays.forEach((d,i)=>pts.push(api.coord([d,eviHigh[i]])));
        for(let i=eviDays.length-1;i>=0;i--) pts.push(api.coord([eviDays[i],eviLow[i]]));
        return {type:'polygon',shape:{points:pts,smooth:0.25},style:{fill:'rgba(240,110,110,0.30)',stroke:'none'}};
      }},
    {name:'theta',type:'line',xAxisIndex:2,yAxisIndex:3,data:joinSegs(thetaSegs),symbol:'none',connectNulls:false,
      lineStyle:{color:'#000',width:1.5},itemStyle:{color:'#000'}},
    {name:'EVI',type:'line',xAxisIndex:2,yAxisIndex:3,data:eviDays.map((d,i)=>[d,eviValues[i]]),
      symbol:'emptyCircle',symbolSize:6,smooth:0.4,lineStyle:{color:'#ff0000',width:1.5},itemStyle:{color:'#ff0000',borderWidth:1}},
    {name:'Inicio',type:'scatter',xAxisIndex:2,yAxisIndex:3,data:greenStart,symbol:'triangle',symbolSize:13,itemStyle:{color:'#ff0000'},z:5},
    {name:'Fin',type:'scatter',xAxisIndex:2,yAxisIndex:3,data:greenEnd,symbol:'triangle',symbolRotate:180,symbolSize:13,itemStyle:{color:'#000'},z:5},
    {name:'ET',type:'line',xAxisIndex:4,yAxisIndex:4,data:etDaily,symbol:'none',lineStyle:{color:'#000',width:1.6},itemStyle:{color:'#000'}},
    {name:'GPP',type:'line',xAxisIndex:4,yAxisIndex:5,data:gppDaily,symbol:'none',lineStyle:{color:'#ff0000',width:1.6},itemStyle:{color:'#ff0000'}},
    {name:'Reco',type:'line',xAxisIndex:4,yAxisIndex:5,data:recoDaily,symbol:'none',lineStyle:{color:'#0000ff',width:1.6},itemStyle:{color:'#0000ff'}},
    {name:'PAR',type:'line',xAxisIndex:6,yAxisIndex:6,data:joinSegs(parSegs),symbol:'none',connectNulls:false,lineStyle:{color:'#000',width:1.6},itemStyle:{color:'#000'}},
    {name:'Tair',type:'line',xAxisIndex:6,yAxisIndex:8,data:joinSegs(tairSegs),symbol:'none',connectNulls:false,lineStyle:{color:'#0000ff',width:1.6},itemStyle:{color:'#0000ff'}},
    {name:'VPD',type:'line',xAxisIndex:6,yAxisIndex:7,data:joinSegs(vpdSegs),symbol:'none',connectNulls:false,lineStyle:{color:'#ff0000',width:1.6},itemStyle:{color:'#ff0000'}}
  ]
};
const chart = echarts.init(document.getElementById('c'));
chart.setOption(option);
</script></body></html>
